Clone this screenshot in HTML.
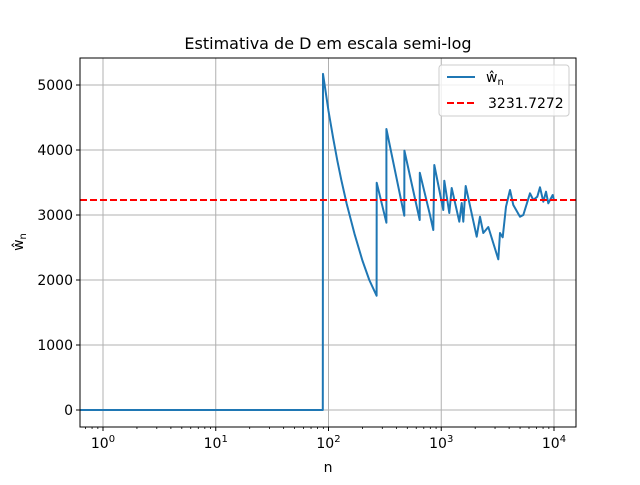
<!DOCTYPE html>
<html><head><meta charset="utf-8"><style>
body{margin:0;background:#fff;}
svg text{font-family:"DejaVu Sans","Liberation Sans",sans-serif;fill:#000;}
</style></head><body>
<svg id="chart" width="640" height="480" xmlns="http://www.w3.org/2000/svg">
<rect width="640" height="480" fill="#fff"/>
<g id="grid"></g>
<g id="series"></g>
<g id="axes"></g>
<text x="328" y="49" font-size="16" text-anchor="middle">Estimativa de D em escala semi-log</text>
<text x="328" y="472" font-size="14" text-anchor="middle">n</text>
<text transform="translate(23,242) rotate(-90)" font-size="14" text-anchor="middle">ŵ<tspan font-size="10" dy="3">n</tspan></text>
<g>
<rect x="439" y="65" width="130" height="51" rx="3" fill="#fff" fill-opacity="0.8" stroke="#ccc"/>
<line x1="447" y1="77" x2="475" y2="77" stroke="#1f77b4" stroke-width="2"/>
<text x="486" y="82" font-size="14">ŵ<tspan font-size="10" dy="3">n</tspan></text>
<line x1="447" y1="103" x2="475" y2="103" stroke="red" stroke-width="2" stroke-dasharray="7,3"/>
<text x="488" y="108" font-size="14">3231.7272</text>
</g>
</svg>
<script>
const nValues=[0.63,89,89.4,100,110,120,130,145,170,200,230,267,267.5,326,326.5,470,471,644,645,795,851,867,1043,1064,1178,1238,1446,1518,1570,1648,2062,2207,2361,2614,3206,3318,3505,3750,4070,4356,4992,5342,6124,6550,7110,7516,8040,8490,8900,9740,10000];
const wValues=[0,0,5170,4600,4180,3830,3540,3170,2710,2300,2000,1758,3497,2882,4323,2990,3990,2923,3651,3000,2769,3769,3077,3528,3031,3415,2897,3185,2897,3446,2666,2974,2723,2815,2318,2723,2657,3128,3385,3154,2974,3000,3334,3231,3282,3426,3205,3358,3180,3308,3231];
const refValue=3231.7272;
const yTicks=[0,1000,2000,3000,4000,5000];
const xTickExps=[0,1,2,3,4];
const L=80,R=576,T=58,B=427;
const xs=n=>103+112.75*Math.log10(n);
const ys=v=>410-v*0.065;
const NS="http://www.w3.org/2000/svg";
function mk(parent,tag,attrs){const e=document.createElementNS(NS,tag);for(const k in attrs)e.setAttribute(k,attrs[k]);parent.appendChild(e);return e;}
const grid=document.getElementById('grid'),axes=document.getElementById('axes'),ser=document.getElementById('series');
yTicks.forEach(v=>{
 const y=ys(v);
 const g=mk(grid,'line',{x1:L,x2:R,y1:y,y2:y,stroke:'#b0b0b0','stroke-width':1});
 
 
 mk(axes,'line',{x1:L-4,x2:L,y1:y,y2:y,stroke:'#000'});
 const t=mk(axes,'text',{x:L-7,y:y+5,'font-size':14,'text-anchor':'end'});
 t.textContent=v;
 
 
});
xTickExps.forEach(e=>{
 const x=xs(Math.pow(10,e));
 const g=mk(grid,'line',{x1:x,x2:x,y1:T,y2:B,stroke:'#b0b0b0','stroke-width':1});
 
 
 mk(axes,'line',{x1:x,x2:x,y1:B,y2:B+4,stroke:'#000'});
 const t=mk(axes,'text',{x:x,y:B+21,'font-size':14,'text-anchor':'middle'});
 t.innerHTML='10<tspan font-size="10" dy="-6">'+e+'</tspan>';
 
 
});
for(let e=-1;e<=4;e++)for(let m=2;m<=9;m++){const x=xs(m*Math.pow(10,e));if(x>L&&x<R)mk(axes,'line',{x1:x,x2:x,y1:B,y2:B+2,stroke:'#000','stroke-width':0.8});}
const pts=nValues.map((n,i)=>xs(n).toFixed(1)+','+ys(wValues[i]).toFixed(1)).join(' ');
const cp=mk(ser,'clipPath',{id:'cp'});mk(cp,'rect',{x:L,y:T,width:R-L,height:B-T});
const pl=mk(ser,'polyline',{points:pts,fill:'none',stroke:'#1f77b4','stroke-width':2,'stroke-linejoin':'round','clip-path':'url(#cp)'});


const rl=mk(ser,'line',{x1:L,x2:R,y1:ys(refValue),y2:ys(refValue),stroke:'red','stroke-width':2,'stroke-dasharray':'7,3'});


mk(axes,'rect',{x:L,y:T,width:R-L,height:B-T,fill:'none',stroke:'#000','stroke-width':1});
</script>
</body></html>
